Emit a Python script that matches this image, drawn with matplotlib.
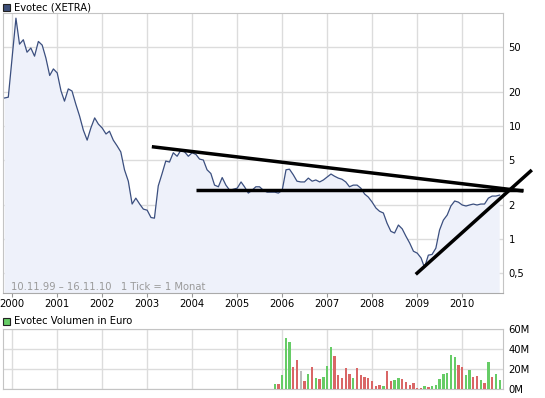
import matplotlib
matplotlib.use('Agg')
import matplotlib.pyplot as plt
import matplotlib.dates as mdates
from matplotlib.patches import Rectangle
import pandas as pd

# ---------------- data ----------------
price_start = '1999-11-01'
price = [
    17.7, 18.0,
    40, 90, 53, 58, 45, 49, 41.5, 56, 52, 40, 28, 32,
    29.5, 20.4, 16.6, 21.3, 20.4, 15.6, 12.3, 9.2, 7.5, 9.6, 11.8, 10.4,
    9.6, 8.5, 9.0, 7.5, 6.7, 5.9, 4.1, 3.25, 2.04, 2.3, 2.04, 1.84,
    1.80, 1.55, 1.53, 2.95, 3.76, 4.9, 4.8, 5.8, 5.4, 6.1, 5.9, 5.4,
    5.8, 5.6, 5.1, 5.0, 4.1, 3.8, 3.0, 2.9, 3.5, 3.0, 2.7, 2.76,
    2.82, 3.2, 2.9, 2.55, 2.7, 2.9, 2.9, 2.7, 2.6, 2.6, 2.6, 2.55,
    2.7, 4.1, 4.15, 3.7, 3.25, 3.2, 3.2, 3.46, 3.25, 3.33, 3.2, 3.33,
    3.54, 3.76, 3.6, 3.46, 3.38, 3.2, 2.9, 3.0, 3.0, 2.82, 2.5, 2.35,
    2.12, 1.88, 1.76, 1.70, 1.38, 1.17, 1.13, 1.33, 1.23, 1.06, 0.92, 0.78,
    0.75, 0.68, 0.56, 0.72, 0.73, 0.83, 1.2, 1.47, 1.63, 1.96, 2.17, 2.12,
    2.0, 1.96, 2.0, 2.04, 2.0, 2.04, 2.04, 2.3, 2.4, 2.4, 2.45,
]

vol_start = '2005-11-01'
volume_m = [
    5.4, 5.4, 14.5, 51, 47, 21.6, 28.6, 18.5, 7.8, 15.5,
    21.6, 11.5, 10.4, 12.5, 22.6, 41.8, 32.7, 14.5, 11.5, 20.6,
    15.5, 11.5, 20.6, 14.5, 12.5, 11.5, 8.4, 3.4, 4.4, 3.4,
    18.5, 8.4, 9.4, 11.5, 10.4, 7.4, 4.4, 6.4, 1.3, 1.3,
    3.4, 2.4, 3.4, 4.4, 10.4, 15.5, 16.5, 33.7, 31.7, 23.6,
    21.6, 14.5, 19.5, 12.5, 13.5, 9.4, 6.4, 26.6, 12.5, 15.5, 9.4,
]
# g = up month, r = down month, n = unchanged
vol_dir = list("grgggrrnrg" "rgrgggrrrr" "rgrrrrrrrg" "rrggrrrrrr"
               "grgggggggr" "rggrrgrgrgg")

# trend lines drawn on the chart (dates, values)
trend1_dates = ['2003-02-08', '2011-05-12']
trend1_vals = [6.56, 2.66]
trend2_dates = ['2004-02-02', '2011-05-10']
trend2_vals = [2.71, 2.71]
trend3_dates = ['2008-12-20', '2011-07-20']
trend3_vals = [0.487, 4.08]

price_ticks = [0.5, 1, 2, 5, 10, 20, 50]
price_tick_labels = ['0,5', '1', '2', '5', '10', '20', '50']
vol_ticks = [0, 20, 40, 60]
vol_tick_labels = ['0M', '20M', '40M', '60M']
years = list(range(2000, 2011))

# ---------------- styles ----------------
LINE = '#3B4F7F'
FILL = '#EEF1FA'
GRID = '#DCDCDC'
SPINE = '#C4C4C4'
GREEN = '#66CC66'
RED = '#D96666'
GRAY = '#BBBBBB'
dir_color = {'g': GREEN, 'r': RED, 'n': GRAY}
FS = 7.2

plt.rcParams['font.family'] = ['DejaVu Sans']

dates = pd.date_range(price_start, periods=len(price), freq='MS')
vdates = pd.date_range(vol_start, periods=len(volume_m), freq='MS')
xmin = pd.Timestamp('1999-10-19')
xmax = pd.Timestamp('2010-11-28')
year_ticks = [pd.Timestamp(f'{y}-01-01') for y in years]

fig = plt.figure(figsize=(5.45, 3.98), dpi=100)
W, H = 545.0, 398.0
ax1 = fig.add_axes([3 / W, 1 - 293 / H, 500 / W, 280 / H])
ax2 = fig.add_axes([3 / W, 1 - 389 / H, 500 / W, 60 / H])

# ---- price panel ----
ax1.set_yscale('log')
ax1.set_xlim(xmin, xmax)
ax1.set_ylim(0.333, 100)
ax1.fill_between(dates, price, 0.01, color=FILL, lw=0, zorder=1)
ax1.plot(dates, price, color=LINE, lw=0.9, zorder=3)

for d, v in [(trend1_dates, trend1_vals), (trend2_dates, trend2_vals),
             (trend3_dates, trend3_vals)]:
    ax1.plot(pd.to_datetime(d), v, color='black', lw=2.5,
             solid_capstyle='butt', clip_on=False, zorder=5)

ax1.set_yticks(price_ticks)
ax1.set_yticklabels(price_tick_labels)
ax1.yaxis.set_minor_locator(matplotlib.ticker.NullLocator())
ax1.yaxis.tick_right()
ax1.tick_params(axis='y', length=0, pad=4, labelsize=FS, colors='black')
ax1.set_xticks(year_ticks)
ax1.set_xticklabels([str(y) for y in years])
ax1.tick_params(axis='x', length=3, width=0.8, color='#999999', pad=1.5,
                labelsize=FS, labelcolor='black')
ax1.grid(True, color=GRID, lw=1.0, zorder=0)
ax1.set_axisbelow(True)
for s in ax1.spines.values():
    s.set_color(SPINE)
    s.set_linewidth(0.8)
ax1.spines['bottom'].set_color('#AAAAAA')

ax1.text(8 / 500, (293 - 286.5) / 280,
         '10.11.99 \u2013 16.11.10   1 Tick = 1 Monat',
         transform=ax1.transAxes, fontsize=FS, color='#9A9A9A',
         va='center', ha='left', zorder=6)

# ---- volume panel ----
ax2.set_xlim(xmin, xmax)
ax2.set_ylim(0, 60)
ax2.bar(vdates, volume_m, width=19,
        color=[dir_color[c] for c in vol_dir], zorder=3)
ax2.set_yticks(vol_ticks)
ax2.set_yticklabels(vol_tick_labels)
ax2.yaxis.tick_right()
ax2.tick_params(axis='y', length=0, pad=4, labelsize=FS, colors='black')
ax2.set_xticks(year_ticks)
ax2.tick_params(axis='x', length=0, labelbottom=False)
ax2.grid(True, color=GRID, lw=1.0, zorder=0)
ax2.set_axisbelow(True)
for s in ax2.spines.values():
    s.set_color(SPINE)
    s.set_linewidth(0.8)

# ---- legend-style titles ----
fig.patches.append(Rectangle((3 / W, 1 - 11 / H), 7 / W, 7 / H,
                             transform=fig.transFigure, facecolor='#3D4F78',
                             edgecolor='#222222', lw=0.8))
fig.text(14 / W, 1 - 7.5 / H, 'Evotec (XETRA)', fontsize=FS,
         va='center', ha='left', color='black')
fig.patches.append(Rectangle((3 / W, 1 - 325 / H), 7 / W, 7 / H,
                             transform=fig.transFigure, facecolor=GREEN,
                             edgecolor='#222222', lw=0.8))
fig.text(14 / W, 1 - 321.5 / H, 'Evotec Volumen in Euro', fontsize=FS,
         va='center', ha='left', color='black')

fig.savefig('out.png', dpi=100)
